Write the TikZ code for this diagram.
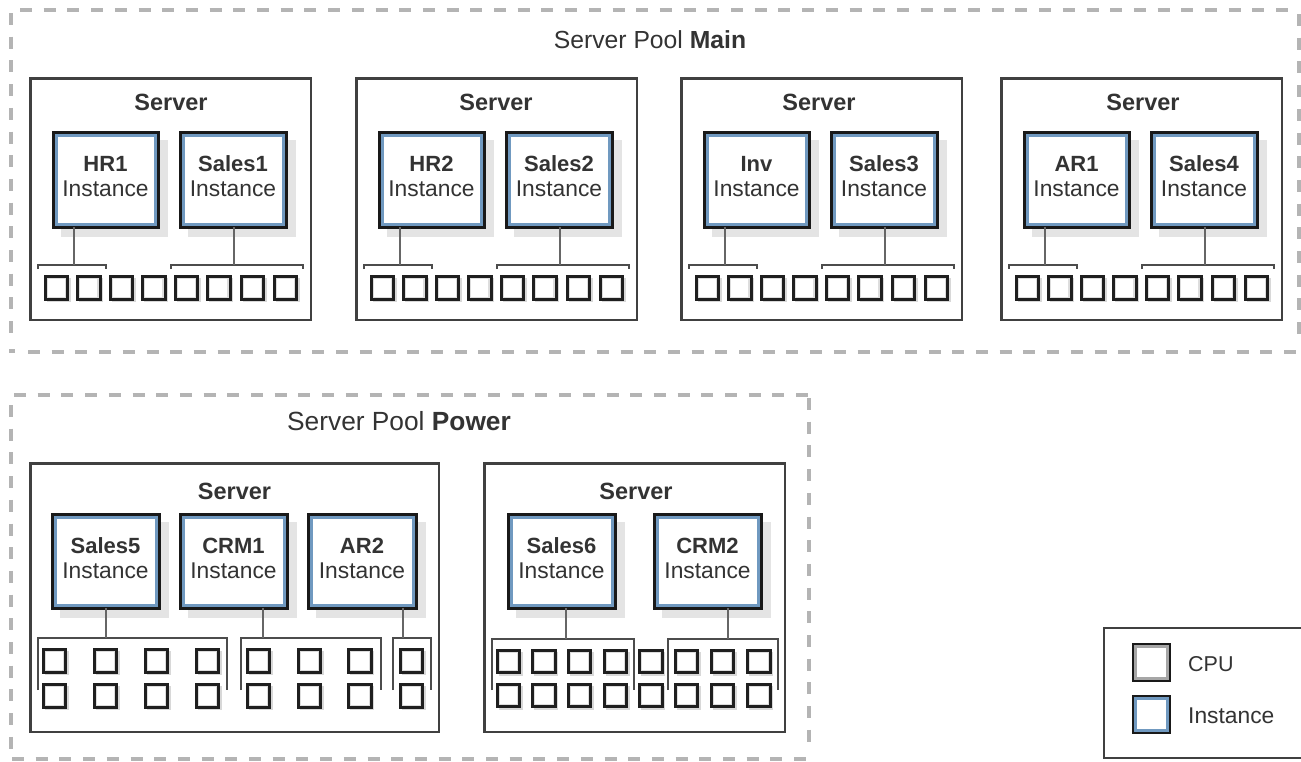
\documentclass[tikz,border=0pt]{standalone}
\usepackage{fontspec}
\setmainfont{Liberation Sans}
\definecolor{txt}{HTML}{333333}
\definecolor{dash}{HTML}{B4B4B4}
\definecolor{instblue}{HTML}{7099C0}
\definecolor{shade}{HTML}{E4E4E4}
\definecolor{cpushade}{HTML}{D8D8D8}
\definecolor{cpuinner}{HTML}{DDDDDD}
\definecolor{link}{HTML}{666666}
\tikzset{
  x=1pt,y=-1pt,
  pool/.style={draw=dash,line width=4.5pt,dash pattern=on 12pt off 11.7pt},
  serverbox/.style={draw=black!75,line width=2.2pt,fill=white,rectangle,anchor=north west,inner sep=0pt,outer sep=0pt},
  shadowbox/.style={fill=shade,draw=none},
  instbox/.style={draw=black!90,line width=3pt,fill=white,rectangle,inner sep=0pt,outer sep=0pt},
  instline/.style={draw=instblue,line width=3pt},
  cpubox/.style={draw=black!88,line width=3pt,fill=white,rectangle,inner sep=0pt,outer sep=0pt,minimum width=22.5pt,minimum height=22.5pt},
  cpuline/.style={draw=cpuinner,line width=1.2pt},
  legendcpu/.style={draw=black!90,line width=2pt,fill=white,rectangle,inner sep=0pt,outer sep=0pt,minimum width=37pt,minimum height=37pt},
  wire/.style={draw=link,line width=1.3pt},
  brace/.style={draw=black!70,line width=1.1pt},
  poollabel/.style={text=txt},
  serverlabel/.style={text=txt,font=\fontsize{23.5}{25}\selectfont\bfseries},
  instlabel/.style={text=txt,align=center,inner sep=0pt,font=\fontsize{22.8}{25}\selectfont},
  legendlabel/.style={text=txt,anchor=west,inner sep=0pt},
}
% name, x1, x2, y1, y2, top line
\newcommand{\instnode}[6]{%
  \fill[shadowbox] ({#2+9},{#4+9}) rectangle ({#3+9},{#5+9});
  \node[instbox,minimum width={(#3)*1pt-(#2)*1pt-2pt},minimum height={(#5)*1pt-(#4)*1pt-2pt}] (#1) at ({(#2+#3)/2},{(#4+#5)/2}) {};
  \draw[instline] ([xshift=3pt,yshift=-3pt]#1.north west) rectangle ([xshift=-3pt,yshift=3pt]#1.south east);
  \node[instlabel] (#1t) at ({(#2+#3)/2},{(#4+#5)/2-3}) {{\fontsize{22}{25}\selectfont\bfseries #6}\\Instance};
}
% name, x centre, y centre
\newcommand{\cpunode}[3]{%
  \fill[cpushade] ({#2-10},{#3-10}) rectangle ({#2+14},{#3+14});
  \node[cpubox] (#1) at ({#2},{#3}) {};
  \draw[cpuline] ([xshift=2.1pt,yshift=-2.1pt]#1.north west) rectangle ([xshift=-2.1pt,yshift=2.1pt]#1.south east);
}
% bracket: name, x1, x2, y, y end, connector source, x of connector
\newcommand{\bracketlink}[7]{%
  \coordinate (#1) at ({#7},{#4});
  \draw[brace] ({#2},{#5}) -- ({#2},{#4}) -- ({#3},{#4}) -- ({#3},{#5});
  \draw[wire] (#6.south -| #1) -- (#1);
}
% server of the Main pool: dx, name, instance labels, label x
\newcommand{\mainserver}[5]{%
  \pgfmathsetmacro{\dx}{#1}
  \node[serverbox,minimum width=280.5pt,minimum height=241.5pt] (srv#2) at ({30.5+\dx},78.5) {};
  \node[serverlabel] (srv#2t) at (#5,102) {Server};
  \instnode{a#2}{52+\dx}{159+\dx}{131}{228}{#3}
  \instnode{b#2}{179+\dx}{287+\dx}{131}{228}{#4}
  \foreach \i/\cx in {1/56.5,2/88.8,3/121.5,4/153.8,5/186.5,6/218.8,7/252.5,8/285.5}{
    \cpunode{c#2\i}{\cx+\dx}{288}
  }
  \bracketlink{la#2}{38+\dx}{106+\dx}{265}{269}{a#2}{74+\dx}
  \bracketlink{lb#2}{171+\dx}{303+\dx}{265}{269}{b#2}{234+\dx}
}
\begin{document}
\begin{tikzpicture}
\useasboundingbox (0,0) rectangle (1301,761);
\clip (0,0) rectangle (1301,761);
\fill[white] (0,0) rectangle (1301,761);
% pools
\draw[pool] (20,10) -- (1296,10);
\draw[pool] (28,352) -- (1296,352);
\draw[pool] (1299,14) -- (1299,340);
\draw[pool] (11,13) -- (11,340);
\draw[pool] (9,351) -- (15,351);
\draw[pool] (14,395) -- (808,395);
\draw[pool] (11,405) -- (11,750);
\draw[pool] (809,398) -- (809,750);
\draw[pool] (12,759) -- (808,759);
\node[poollabel,font=\fontsize{24.7}{28}\selectfont] (pm) at (650,40) {Server Pool \textbf{Main}};
\node[poollabel,font=\fontsize{26.3}{28}\selectfont] (pp) at (399,421) {Server Pool \textbf{Power}};
% main pool
\mainserver{0}{A}{HR1}{Sales1}{171}
\mainserver{326}{B}{HR2}{Sales2}{496}
\mainserver{651}{C}{Inv}{Sales3}{819}
\mainserver{971}{D}{AR1}{Sales4}{1143}
% power pool, first server
\node[serverbox,minimum width=408.5pt,minimum height=268.5pt] (srvE) at (30.5,463.5) {};
\node[serverlabel] (srvEt) at (234.5,491) {Server};
\instnode{aE}{51}{160}{513}{609}{Sales5}
\instnode{bE}{179}{288}{513}{609}{CRM1}
\instnode{dE}{307}{417}{513}{609}{AR2}
\foreach \i/\cx in {1/54.5,2/105.5,3/156.5,4/207.5,5/258.5,6/309.5,7/360,8/411.5}{
  \cpunode{cEa\i}{\cx}{661}
  \cpunode{cEb\i}{\cx}{696}
}
\bracketlink{laE}{38}{227}{638}{690}{aE}{106}
\bracketlink{lbE}{241}{381}{638}{690}{bE}{263}
\bracketlink{ldE}{393}{431}{638}{690}{dE}{403}
% power pool, second server
\node[serverbox,minimum width=300.5pt,minimum height=268.5pt] (srvF) at (484.5,463.5) {};
\node[serverlabel] (srvFt) at (636,491) {Server};
\instnode{aF}{507}{616}{513}{609}{Sales6}
\instnode{bF}{653}{762}{513}{609}{CRM2}
\foreach \i/\cx in {1/508.5,2/544,3/579.5,4/615.5,5/651,6/686.5,7/722.5,8/759}{
  \cpunode{cFa\i}{\cx}{661.5}
  \cpunode{cFb\i}{\cx}{695.5}
}
\bracketlink{laF}{492}{634}{639}{690}{aF}{566}
\bracketlink{lbF}{668}{778}{639}{690}{bF}{728}
% legend
\draw[draw=black!75,line width=2.2pt] (1320,628) -- (1104,628) -- (1104,758) -- (1320,758);
\node[legendcpu] (lgc) at (1151,662) {};
\draw[draw=black!35,line width=3pt] ([xshift=2.5pt,yshift=-2.5pt]lgc.north west) rectangle ([xshift=-2.5pt,yshift=2.5pt]lgc.south east);
\node[legendcpu] (lgi) at (1151,714) {};
\draw[instline] ([xshift=2.5pt,yshift=-2.5pt]lgi.north west) rectangle ([xshift=-2.5pt,yshift=2.5pt]lgi.south east);
\node[legendlabel,font=\fontsize{21.5}{24}\selectfont] (lgct) at (1188,664) {CPU};
\node[legendlabel,font=\fontsize{22.8}{24}\selectfont] (lgit) at (1188,716) {Instance};
\end{tikzpicture}
\end{document}
